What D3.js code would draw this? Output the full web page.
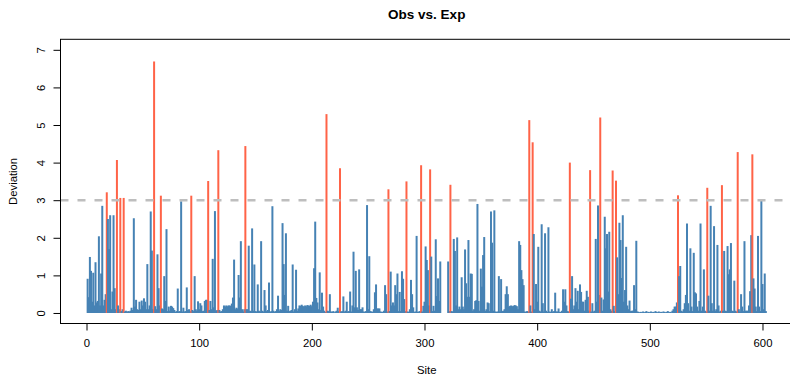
<!DOCTYPE html>
<html><head><meta charset="utf-8">
<script src="https://cdn.jsdelivr.net/npm/d3@7"></script>
<style>html,body{margin:0;padding:0;background:#fff;}svg{display:block;font-family:"Liberation Sans",Arial,sans-serif;}</style>
</head><body>
<svg id="chart" width="790" height="376"></svg>
<script>
const title = "Obs vs. Exp";
const xLabel = "Site";
const yLabel = "Deviation";
const xTicks = [0, 100, 200, 300, 400, 500, 600];
const yTicks = [0, 1, 2, 3, 4, 5, 6, 7];
const threshold = 3;
// deviation per site (site = index + 1); null = missing
const deviation = [
0.91,0.42,1.49,1.12,0.3,1.07,0.2,1.35,0.28,0.32,
2.04,0.2,1.05,2.85,0.2,0.35,0.5,3.21,2.5,1.7,
2.6,0.1,0.57,2.6,0.66,0.1,4.07,0.2,0.1,3.06,
0.05,0.1,3.06,0.04,0.06,0.03,0.05,0.04,0.06,0.14,
0.08,2.52,0.17,0.35,0.1,0.08,0.3,0.1,0.33,0.2,
0.39,0.3,0.1,1.3,0.1,0.2,2.7,1.66,0.1,6.69,
0.18,0.1,1.56,0.66,0.2,3.12,0.12,0.1,0.98,0.32,
2.23,0.05,0.17,0.06,0.19,0.17,0.13,0.08,0.03,0.05,
0.65,0.04,0.05,2.97,0.04,0.14,0.04,0.05,0.68,0.08,
0.1,0.05,3.12,0.08,0.05,0.98,0.1,0.06,0.31,0.1,
0.26,0.2,0.05,0.06,0.32,0.35,0.35,3.51,0.08,0.32,
0.1,1.44,0.15,2.71,0.06,0.08,4.33,0.08,0.04,0.05,
0.1,0.2,0.17,0.2,0.18,0.2,0.2,0.19,0.25,0.41,
1.42,0.1,0.14,0.12,1.01,0.41,1.91,0.1,0.04,0.1,
4.44,0.1,0.1,1.79,0.06,0.05,2.25,0.06,1.29,0.05,
0.04,0.76,0.06,0.04,1.91,0.06,0.04,0.61,0.2,0.05,
0.08,0.81,0.03,0.05,2.84,0.06,0.03,0.05,0.1,0.46,
0.06,0.1,0.08,2.39,1.3,0.48,2.12,0.06,0.19,0.05,
0.06,0.08,1.29,0.04,0.1,1.15,0.06,0.12,0.2,0.19,
0.22,0.19,0.17,0.2,0.18,0.21,0.2,0.19,0.22,0.18,
0.3,1.19,2.43,0.4,0.28,0.1,1.08,0.08,0.54,0.17,
0.06,0.03,5.29,0.06,0.05,0.5,0.04,0.03,0.05,0.02,
0.04,0.06,0.14,0.05,3.85,0.04,0.05,0.44,0.04,0.06,
0.3,0.04,0.05,0.57,0.04,0.2,1.63,0.15,1.12,0.15,
0.08,1.16,0.1,0.1,0.15,0.04,0.03,0.05,2.87,0.1,
1.51,0.05,0.04,0.03,0.1,0.55,0.76,0.12,0.12,0.12,
0.04,0.03,0.03,0.06,0.74,0.5,0.04,3.29,0.05,1.1,
0.2,0.28,0.2,0.74,0.5,1.05,0.05,0.56,0.05,1.11,
0.91,0.37,0.05,3.5,0.04,0.03,0.1,0.88,0.5,0.15,
0.03,0.04,2.05,0.03,0.04,0.05,3.93,0.04,0.19,0.3,
1.77,1.41,1.14,0.2,3.82,1.5,0.05,0.19,0.06,1.96,
0.45,0.92,0.32,1.37,null,null,null,null,null,null,
1.37,0.05,3.41,0.05,0.04,1.97,1.65,0.2,2.01,0.1,
0.17,0.1,0.95,0.17,0.1,1.69,0.79,0.43,1.94,0.43,
1.05,1.04,0.06,0.1,0.32,0.34,2.9,0.32,0.06,1.18,
0.7,1.54,2.02,0.06,0.1,0.28,0.26,0.05,2.7,1.87,
0.06,2.73,0.04,0.03,0.04,0.98,0.04,0.9,0.05,0.06,
0.1,0.5,0.71,0.5,0.17,0.19,0.2,0.18,0.19,0.21,
0.2,0.18,0.1,1.91,1.81,1.14,0.9,0.74,0.04,0.03,
0.05,0.04,5.13,0.2,0.04,4.54,2.1,0.1,0.77,0.3,
1.76,0.06,0.04,2.36,0.26,0.04,2.12,0.06,0.03,2.28,
0.04,0.03,0.1,0.03,0.05,0.54,0.04,0.04,0.12,0.03,
0.03,0.06,0.63,0.3,0.63,0.2,0.05,0.04,4.0,0.38,
0.98,0.1,0.2,0.66,0.3,0.59,0.1,0.76,0.56,0.3,
0.3,0.06,0.35,0.59,0.43,0.06,3.8,0.04,0.26,0.04,
0.06,1.97,0.3,2.86,0.48,5.2,0.41,0.06,0.36,2.56,
1.72,2.1,0.57,2.16,0.1,0.06,3.79,0.19,0.05,3.52,
1.48,0.5,2.4,1.94,0.93,2.6,0.3,0.61,1.76,0.2,
0.1,0.33,0.05,0.06,0.06,0.74,0.1,1.92,0.04,0.03,
0.02,0.03,0.02,0.04,0.02,0.03,0.05,0.02,0.03,0.02,
0.04,0.02,0.03,0.02,0.05,0.03,0.02,0.04,0.02,0.03,
0.02,0.04,0.03,0.02,0.03,0.05,0.02,0.03,0.02,0.06,
0.1,0.17,0.17,0.28,3.13,0.98,1.25,0.06,0.04,0.1,
0.26,0.48,2.38,0.26,0.06,1.72,0.17,0.05,1.6,0.55,
0.52,0.17,0.06,0.32,2.38,0.06,0.17,1.16,0.06,0.04,
3.33,0.46,0.06,2.85,0.26,0.06,2.31,0.06,0.1,1.81,
0.2,0.04,0.06,3.4,0.06,1.65,0.06,0.05,1.78,1.03,
1.16,1.86,0.06,0.05,0.86,0.06,0.04,4.28,0.1,0.04,
0.5,0.17,0.05,1.91,0.06,0.06,0.06,0.2,0.58,2.07,
4.22,0.92,0.65,0.17,0.05,2.05,0.17,0.05,2.99,0.77,
0.1,1.05,0.05
];

const svg = d3.select("#chart");
const pL = 60.5, pT = 39.3, pB = 323.5, pR = 793;
const x = d3.scaleLinear().domain([-23.08, 627.08]).range([pL, pR]);
const y = d3.scaleLinear().domain([-0.28, 7.28]).range([pB, pT]);

const pts = deviation.map((v, i) => ({site: i + 1, v})).filter(d => d.v !== null);

// bars (type = "h")
svg.append("g").selectAll("line").data(pts).join("line")
  .attr("x1", d => x(d.site)).attr("x2", d => x(d.site))
  .attr("y1", y(0)).attr("y2", d => y(d.v))
  .attr("stroke", d => d.v > threshold ? "#FF6347" : "#4682B4")
  .attr("stroke-width", 2);

// threshold line
svg.append("line")
  .attr("x1", pL).attr("x2", pR)
  .attr("y1", y(threshold)).attr("y2", y(threshold))
  .attr("stroke", "#BEBEBE").attr("stroke-width", 2.5)
  .attr("stroke-dasharray", "8,9");

// box
svg.append("rect").attr("x", pL).attr("y", pT)
  .attr("width", pR - pL).attr("height", pB - pT)
  .attr("fill", "none").attr("stroke", "#000").attr("stroke-width", 1);

// x axis
const xa = svg.append("g").attr("transform", `translate(0,${pB})`)
  .call(d3.axisBottom(x).tickValues(xTicks).tickSize(7).tickPadding(8.5).tickFormat(d3.format("d")));
xa.select(".domain").attr("d", `M${x(xTicks[0])},0H${x(xTicks[xTicks.length-1])}`);
xa.selectAll("text").attr("font-size", "11.3px").attr("font-family", "Liberation Sans, Arial, sans-serif").attr("fill", "#000");

// y axis
const ya = svg.append("g").attr("transform", `translate(${pL},0)`)
  .call(d3.axisLeft(y).tickValues(yTicks).tickSize(7).tickFormat(d3.format("d")));
ya.select(".domain").attr("d", `M0,${y(yTicks[0])}V${y(yTicks[yTicks.length-1])}`);
ya.selectAll(".tick text")
  .attr("font-size", "11.3px").attr("font-family", "Liberation Sans, Arial, sans-serif").attr("fill", "#000")
  .attr("text-anchor", "middle").attr("dy", null)
  .attr("x", 0).attr("y", 0)
  .attr("transform", "translate(-16,0) rotate(-90)");

// labels
svg.append("text").attr("x", (pL + pR) / 2).attr("y", 374)
  .attr("text-anchor", "middle").attr("font-size", "11.3px").text(xLabel);
svg.append("text").attr("transform", `translate(17,${(pT + pB) / 2}) rotate(-90)`)
  .attr("text-anchor", "middle").attr("font-size", "11.3px").text(yLabel);
svg.append("text").attr("x", (pL + pR) / 2).attr("y", 19)
  .attr("text-anchor", "middle").attr("font-size", "13.5px").attr("font-weight", "bold").text(title);
</script>
</body></html>
